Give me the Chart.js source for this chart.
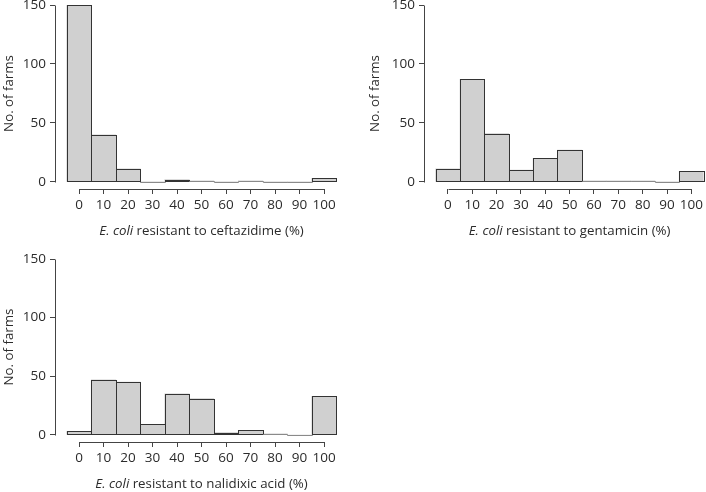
<!DOCTYPE html>
<html>
<head>
<meta charset="utf-8">
<script src="https://cdn.jsdelivr.net/npm/chart.js@4/dist/chart.umd.min.js"></script>
<style>
  body { margin: 0; background: #fff; }
  #wrap { position: relative; width: 706px; height: 492px; overflow: hidden; background: #fff; }
  canvas { position: absolute; }
</style>
</head>
<body>
<div id="wrap">
  <canvas id="c1"></canvas>
  <canvas id="c2"></canvas>
  <canvas id="c3"></canvas>
</div>
<script>
// histogram bins (centre of each 10% bin)
const binCentres = [0, 10, 20, 30, 40, 50, 60, 70, 80, 90, 100]
const ceftazidimeCounts = [150, 40, 11, 0, 2, 1, 0, 1, 0, 0, 3]
const gentamicinCounts = [11, 87, 41, 10, 20, 27, 1, 1, 1, 0, 9]
const nalidixicCounts = [3, 47, 45, 9, 35, 31, 2, 4, 1, 0, 33]
const yTickValues = [0, 50, 100, 150]
const drugNames = ['ceftazidime', 'gentamicin', 'nalidixic acid']

const FONT = '"Open Sans", "DejaVu Sans", sans-serif'
const TEXT = '#2b2b2b'
const LINE = '#444'
const TITLE_SIZE = 13.3
const TICK_SIZE = 13.5

// panel placement on the page
const panels = [
    { id: 'c1', counts: ceftazidimeCounts, drug: drugNames[0], left: 0, top: -10, width: 353, height: 250, axisLeft: 55, padRight: 16.7, xHeight: 51, yTitleX: 9 },
    { id: 'c2', counts: gentamicinCounts, drug: drugNames[1], left: 353, top: -10, width: 353, height: 250, axisLeft: 71, padRight: 0.7, xHeight: 51, yTitleX: 22 },
    { id: 'c3', counts: nalidixicCounts, drug: drugNames[2], left: 0, top: 244, width: 353, height: 248, axisLeft: 55, padRight: 16.7, xHeight: 50, yTitleX: 9 }
]

const histAxes = {
    id: 'histAxes',
    afterDatasetsDraw(chart, args, opts) {
        const { ctx, chartArea, scales: { x, y } } = chart
        ctx.save()
        ctx.lineWidth = 1

        // outline every bin (empty bins give a faint flat line)
        chart.getDatasetMeta(0).data.forEach(bar => {
            const { x: bx, y: by, base, width } = bar.getProps(['x', 'y', 'base', 'width'], true)
            const l = Math.round(bx - width / 2) + 0.5
            const r = Math.round(bx + width / 2) + 0.5
            const t = Math.round(by) + 0.5
            const b = Math.round(base) + 0.5
            ctx.strokeStyle = (b - t) < 0.5 ? '#8a8a8a' : '#333'
            ctx.strokeRect(l, t, r - l, b - t)
        })

        ctx.strokeStyle = LINE
        // x axis line, first to last tick
        const xb = Math.round(chartArea.bottom) + 0.5
        ctx.beginPath()
        ctx.moveTo(Math.round(x.getPixelForValue(binCentres[0])) + 0.5, xb)
        ctx.lineTo(Math.round(x.getPixelForValue(binCentres[binCentres.length - 1])) + 0.5, xb)
        ctx.stroke()

        // y axis line, 0 to 150
        const yl = Math.round(chartArea.left) + 0.5
        ctx.beginPath()
        ctx.moveTo(yl, Math.round(y.getPixelForValue(yTickValues[0])) + 0.5)
        ctx.lineTo(yl, Math.round(y.getPixelForValue(yTickValues[yTickValues.length - 1])) + 0.5)
        ctx.stroke()

        // y title
        ctx.fillStyle = TEXT
        ctx.font = TITLE_SIZE + 'px ' + FONT
        ctx.textAlign = 'center'
        ctx.textBaseline = 'middle'
        const yMid = (y.getPixelForValue(yTickValues[0]) + y.getPixelForValue(yTickValues[yTickValues.length - 1])) / 2
        ctx.save()
        ctx.translate(opts.yTitleX, yMid)
        ctx.rotate(-Math.PI / 2)
        ctx.fillText('No. of farms', 0, 0)
        ctx.restore()

        // x title with italic species name
        const part1 = 'E. coli'
        const part2 = ' resistant to ' + opts.drug + ' (%)'
        ctx.font = 'italic ' + TITLE_SIZE + 'px ' + FONT
        const w1 = ctx.measureText(part1).width
        ctx.font = TITLE_SIZE + 'px ' + FONT
        const w2 = ctx.measureText(part2).width
        const cx = x.getPixelForValue(50)
        const ty = chartArea.bottom + 42
        const sx = cx - (w1 + w2) / 2
        ctx.textAlign = 'left'
        ctx.font = 'italic ' + TITLE_SIZE + 'px ' + FONT
        ctx.fillText(part1, sx, ty)
        ctx.font = TITLE_SIZE + 'px ' + FONT
        ctx.fillText(part2, sx + w1, ty)
        ctx.restore()
    }
}

function buildPanel(p) {
    const canvas = document.getElementById(p.id)
    canvas.width = p.width
    canvas.height = p.height
    canvas.style.left = p.left + 'px'
    canvas.style.top = p.top + 'px'
    canvas.style.width = p.width + 'px'
    canvas.style.height = p.height + 'px'

    const points = binCentres.map((b, i) => ({ x: b, y: p.counts[i] }))

    new Chart(canvas, {
        type: 'bar',
        data: {
            datasets: [{
                data: points,
                backgroundColor: '#d0d0d0',
                borderWidth: 0,
                barPercentage: 1,
                categoryPercentage: 1
            }]
        },
        options: {
            responsive: false,
            animation: false,
            devicePixelRatio: 1,
            layout: { padding: { top: 15, right: p.padRight, left: 0, bottom: 0 } },
            plugins: {
                legend: { display: false },
                tooltip: { enabled: false },
                histAxes: { drug: p.drug, yTitleX: p.yTitleX }
            },
            scales: {
                x: {
                    type: 'linear',
                    min: -9.8,
                    max: 105,
                    offset: false,
                    afterBuildTicks: s => { s.ticks = binCentres.map(v => ({ value: v })) },
                    afterFit: s => { s.height = p.xHeight },
                    grid: { display: true, offset: false, drawOnChartArea: false, drawTicks: true, tickLength: 5, color: LINE },
                    border: { display: false },
                    ticks: { padding: 3, autoSkip: false, maxRotation: 0, color: TEXT, font: { family: FONT, size: TICK_SIZE } }
                },
                y: {
                    min: -6,
                    max: 150,
                    afterBuildTicks: s => { s.ticks = yTickValues.map(v => ({ value: v })) },
                    afterFit: s => { s.width = p.axisLeft },
                    grid: { display: true, drawOnChartArea: false, drawTicks: true, tickLength: 5, color: LINE },
                    border: { display: false },
                    ticks: { padding: 4, color: TEXT, font: { family: FONT, size: TICK_SIZE } }
                }
            }
        },
        plugins: [histAxes]
    })
}

panels.forEach(buildPanel)
</script>
</body>
</html>
